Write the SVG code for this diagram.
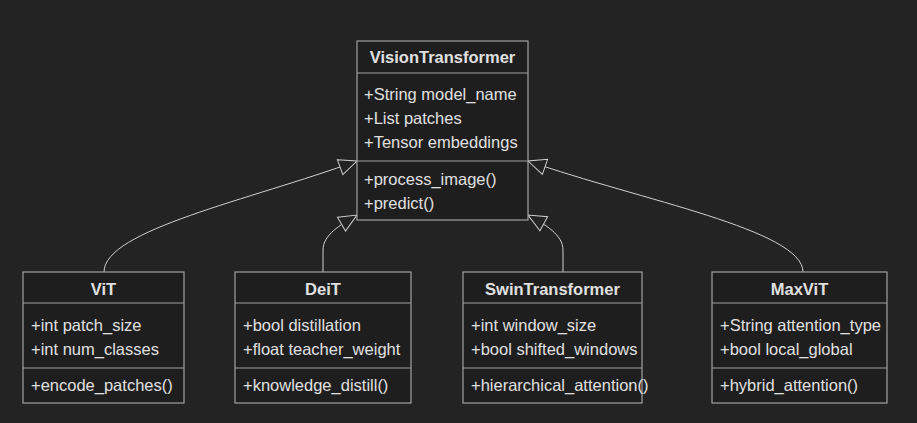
<svg xmlns="http://www.w3.org/2000/svg" width="917" height="423" viewBox="0 0 917 423">
<style>
.box{fill:#1e1e1e;stroke:#a0a0a0;stroke-width:1.2}
.ln{stroke:#a0a0a0;stroke-width:1.2}
text{font-family:"Liberation Sans",Arial,sans-serif;font-size:16.5px;fill:#e0e0e0}
.t{font-weight:bold;text-anchor:middle}
.e{fill:none;stroke:#d0d0d0;stroke-width:1}
</style>
<defs>
<marker id="inh" viewBox="0 0 20 20" refX="19" refY="10" markerWidth="20" markerHeight="20" markerUnits="userSpaceOnUse" orient="auto">
<path d="M1,2 L19,10 L1,18 Z" fill="#232323" stroke="#d0d0d0" stroke-width="1"/>
</marker>
</defs>
<rect width="917" height="423" fill="#232323"/>
<g id="connectors">
<path class="e" d="M104,272 C104,230 250,200 357,161" marker-end="url(#inh)"/>
<path class="e" d="M323,272 L323,250 C323,235 340,225 357,215" marker-end="url(#inh)"/>
<path class="e" d="M563,272 L563,250 C563,235 546,225 528,215" marker-end="url(#inh)"/>
<path class="e" d="M803,272 C803,230 640,200 528,161" marker-end="url(#inh)"/>
</g>
<g id="VisionTransformer">
<rect class="box" x="357" y="41" width="171" height="179"/>
<line class="ln" x1="357" y1="73" x2="528" y2="73"/>
<line class="ln" x1="357" y1="161" x2="528" y2="161"/>
<text class="t" x="442.5" y="63">VisionTransformer</text>
<text x="364" y="100">+String model_name</text>
<text x="364" y="124">+List patches</text>
<text x="364" y="148">+Tensor embeddings</text>
<text x="364" y="185">+process_image()</text>
<text x="364" y="209">+predict()</text>
</g>
<g id="ViT">
<rect class="box" x="23" y="272" width="161" height="131"/>
<line class="ln" x1="23" y1="303" x2="184" y2="303"/>
<line class="ln" x1="23" y1="368" x2="184" y2="368"/>
<text class="t" x="103.5" y="295">ViT</text>
<text x="31" y="331">+int patch_size</text>
<text x="31" y="355">+int num_classes</text>
<text x="31" y="391">+encode_patches()</text>
</g>
<g id="DeiT">
<rect class="box" x="235" y="272" width="176" height="131"/>
<line class="ln" x1="235" y1="303" x2="411" y2="303"/>
<line class="ln" x1="235" y1="368" x2="411" y2="368"/>
<text class="t" x="323" y="295">DeiT</text>
<text x="243" y="331">+bool distillation</text>
<text x="243" y="355">+float teacher_weight</text>
<text x="243" y="391">+knowledge_distill()</text>
</g>
<g id="SwinTransformer">
<rect class="box" x="463" y="272" width="179" height="131"/>
<line class="ln" x1="463" y1="303" x2="642" y2="303"/>
<line class="ln" x1="463" y1="368" x2="642" y2="368"/>
<text class="t" x="552.5" y="295">SwinTransformer</text>
<text x="471" y="331">+int window_size</text>
<text x="471" y="355">+bool shifted_windows</text>
<text x="471" y="391">+hierarchical_attention()</text>
</g>
<g id="MaxViT">
<rect class="box" x="712" y="272" width="175" height="131"/>
<line class="ln" x1="712" y1="303" x2="887" y2="303"/>
<line class="ln" x1="712" y1="368" x2="887" y2="368"/>
<text class="t" x="799.5" y="295">MaxViT</text>
<text x="720" y="331">+String attention_type</text>
<text x="720" y="355">+bool local_global</text>
<text x="720" y="391">+hybrid_attention()</text>
</g>
</svg>
